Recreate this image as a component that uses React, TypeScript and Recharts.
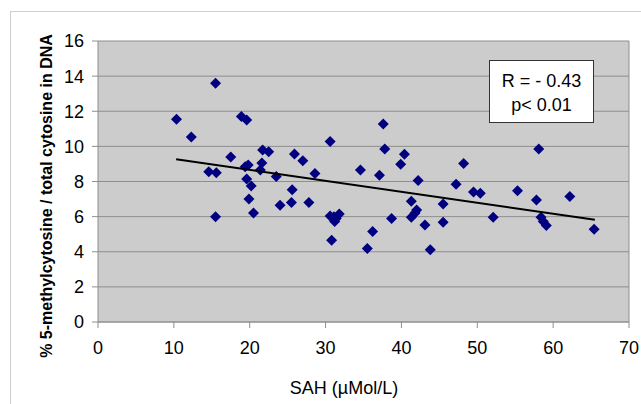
import React from "react";
import {
  CartesianGrid,
  ReferenceLine,
  Scatter,
  ScatterChart,
  XAxis,
  YAxis,
} from "recharts";

const FONT = "'Liberation Sans', Arial, Helvetica, sans-serif";
const NAVY = "#000080";

// SAH (µMol/L) per sample
const SAH = [
  10.35, 12.3, 15.5, 17.5, 14.6, 15.6, 15.5, 18.9, 19.6, 19.4,
  19.8, 19.6, 20.2, 19.9, 20.5, 21.7, 22.5, 21.6, 21.4, 23.5,
  24.0, 25.9, 25.6, 25.5, 27.0, 27.8, 28.6, 30.6, 30.6, 30.8,
  31.1, 31.4, 31.8, 31.2, 34.6, 35.5, 36.2, 37.1, 37.6, 37.8,
  38.7, 39.9, 40.4, 41.3, 41.3, 41.8, 42.0, 42.2, 43.1, 43.8,
  45.5, 45.5, 47.2, 48.2, 49.5, 50.4, 52.1, 55.3, 57.8, 58.1,
  58.4, 58.7, 59.1, 62.2, 65.4,
];

// % 5-methylcytosine / total cytosine
const METHYL = [
  11.55, 10.53, 13.6, 9.4, 8.56, 8.5, 6.0, 11.7, 11.5, 8.84,
  8.94, 8.14, 7.75, 7.0, 6.2, 9.8, 9.7, 9.05, 8.65, 8.28,
  6.65, 9.57, 7.53, 6.8, 9.18, 6.8, 8.45, 10.28, 6.04, 4.66,
  6.0, 5.9, 6.15, 5.72, 8.66, 4.18, 5.15, 8.35, 11.27, 9.85,
  5.9, 8.98, 9.55, 6.87, 5.96, 6.2, 6.38, 8.05, 5.52, 4.12,
  6.72, 5.68, 7.85, 9.03, 7.4, 7.33, 5.97, 7.47, 6.95, 9.85,
  5.96, 5.72, 5.5, 7.15, 5.28,
];

// linear trend endpoints
const TREND_X = [10.3, 65.5];
const TREND_Y = [9.27, 5.82];

const X_TICKS = [0, 10, 20, 30, 40, 50, 60, 70];
const Y_TICKS = [0, 2, 4, 6, 8, 10, 12, 14, 16];

const points = SAH.map((x, i) => ({ x, y: METHYL[i] }));
const trend = TREND_X.map((x, i) => ({ x, y: TREND_Y[i] }));

const Diamond = (props: any) => {
  const { cx, cy } = props;
  const r = 5.5;
  return (
    <polygon
      points={`${cx},${cy - r} ${cx + r},${cy} ${cx},${cy + r} ${cx - r},${cy}`}
      fill={NAVY}
    />
  );
};

const NoDot = () => <g />;

const YTitle = () => (
  <text
    transform="translate(52,196) rotate(-90)"
    textAnchor="middle"
    fontFamily={FONT}
    fontWeight="bold"
    fontSize={16}
    fill="#000"
  >
    % 5-methylcytosine / total cytosine in DNA
  </text>
);

const XTitle = () => (
  <text x={344} y={394} textAnchor="middle" fontFamily={FONT} fontSize={18} fill="#000">
    SAH (µMol/L)
  </text>
);

export default function App() {
  return (
    <div
      style={{
        position: "absolute",
        left: 0,
        top: 0,
        width: 641,
        height: 404,
        background: "#fff",
        overflow: "hidden",
      }}
    >
      <div
        style={{
          position: "absolute",
          left: 10,
          top: 11,
          width: 700,
          height: 500,
          border: "1px solid #cfcfcf",
        }}
      />
      <div style={{ position: "absolute", left: 0, top: 0 }}>
        <ScatterChart
          width={641}
          height={404}
          margin={{ top: 41, right: 12, bottom: 0, left: 0 }}
        >
          <CartesianGrid
            vertical={false}
            stroke="#8e8e8e"
            strokeWidth={1}
            fill="#cccccc"
            fillOpacity={1}
          />
          <XAxis
            type="number"
            dataKey="x"
            domain={[0, 70]}
            ticks={X_TICKS}
            interval={0}
            height={82}
            stroke="#8e8e8e"
            tickSize={6}
            tickMargin={13}
            tick={{ fill: "#000", fontSize: 18, fontFamily: FONT }}
            label={<XTitle />}
          />
          <YAxis
            type="number"
            dataKey="y"
            domain={[0, 16]}
            ticks={Y_TICKS}
            interval={0}
            width={98}
            stroke="#8e8e8e"
            tickSize={6}
            tickMargin={8}
            tick={{ fill: "#000", fontSize: 18, fontFamily: FONT }}
            label={<YTitle />}
          />
          <ReferenceLine x={70} stroke="#8e8e8e" />
          <Scatter data={points} shape={<Diamond />} isAnimationActive={false} />
          <Scatter
            data={trend}
            line={{ stroke: "#000", strokeWidth: 2 }}
            shape={<NoDot />}
            isAnimationActive={false}
          />
        </ScatterChart>
      </div>
      <div
        style={{
          position: "absolute",
          left: 489,
          top: 60,
          width: 105,
          height: 63,
          background: "#fff",
          border: "1px solid #333",
          fontFamily: FONT,
          fontSize: 18,
          lineHeight: "24px",
          textAlign: "center",
          paddingTop: 8,
          boxSizing: "border-box",
          color: "#000",
        }}
      >
        <div>R = - 0.43</div>
        <div>p&lt; 0.01</div>
      </div>
    </div>
  );
}
